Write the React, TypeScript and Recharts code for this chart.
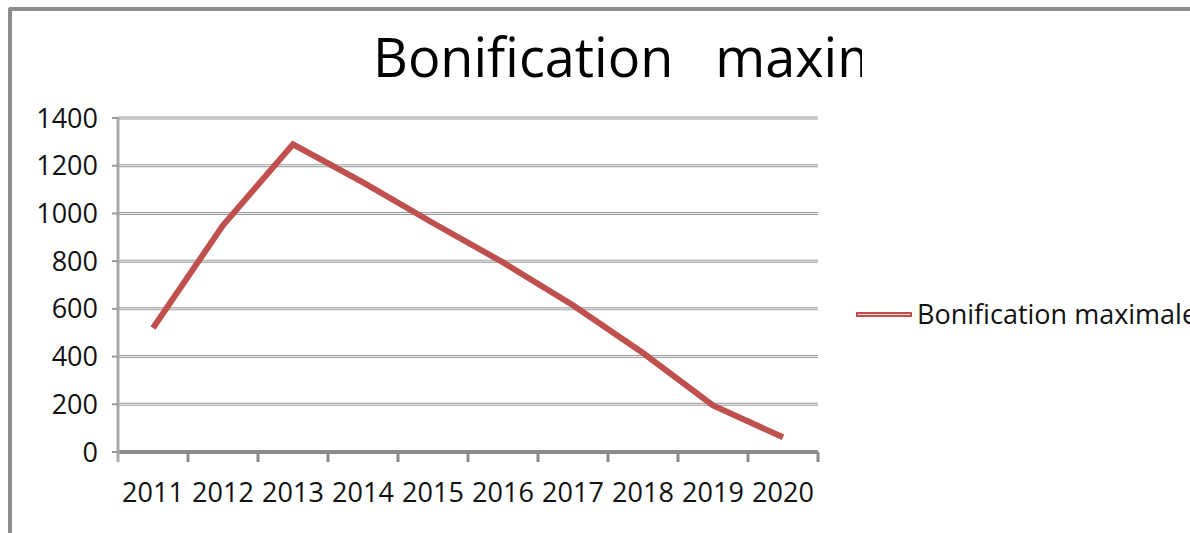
import React from "react";
import { LineChart, Line, XAxis, YAxis, CartesianGrid } from "recharts";

const years = ["2011", "2012", "2013", "2014", "2015", "2016", "2017", "2018", "2019", "2020"];
const bonification = [520, 950, 1290, 1130, 960, 795, 615, 415, 195, 62];
const yTicks = [0, 200, 400, 600, 800, 1000, 1200, 1400];
const seriesName = "Bonification maximale";

const FONT = "'Open Sans', sans-serif";
const RED = "#c0504d";

const data = years.map((year, i) => ({ year, value: bonification[i] }));

function YearTick(props: any) {
  const { x, y, payload, index } = props;
  const off = payload.offset || 0;
  return (
    <g>
      {index === 0 && (
        <line x1={x - off} x2={x - off} y1={y} y2={y + 10} stroke="#aaa" strokeWidth={3} />
      )}
      <line x1={x + off} x2={x + off} y1={y} y2={y + 10} stroke="#8c8c8c" strokeWidth={3} />
      <text x={x} y={y + 50} textAnchor="middle" fontSize={27} fontFamily={FONT} fill="#111">
        {payload.value}
      </text>
    </g>
  );
}

function LegendBox() {
  return (
    <div
      style={{
        position: "absolute",
        left: 855,
        top: 300,
        display: "flex",
        alignItems: "center",
        whiteSpace: "nowrap",
        fontFamily: FONT,
        fontSize: 27,
        lineHeight: "27px",
        color: "#111",
      }}
    >
      <svg width={58} height={10} style={{ marginRight: 4, marginTop: 2 }}>
        <rect x={1} y={2} width={56} height={5} fill={RED} />
        <line x1={3} x2={55} y1={4.5} y2={4.5} stroke="#fff" strokeWidth={0.8} />
      </svg>
      <span>{seriesName}</span>
    </div>
  );
}

export default function App() {
  return (
    <div style={{ position: "fixed", left: 0, top: 0, width: 1190, height: 533, overflow: "hidden", background: "#fff" }}>
      <div
        style={{
          position: "absolute",
          left: 8,
          top: 7,
          width: 1200,
          height: 540,
          borderTop: "4px solid #8c8c8c",
          borderLeft: "4px solid #8c8c8c",
          borderTopLeftRadius: 3,
        }}
      />
      <div
        style={{
          position: "absolute",
          left: 373,
          top: 29,
          width: 489,
          overflow: "hidden",
          whiteSpace: "pre",
          fontFamily: FONT,
          fontSize: 54,
          fontWeight: 500,
          lineHeight: "54px",
          color: "#000",
        }}
      >
        {"Bonification   maximale"}
      </div>
      <div style={{ position: "absolute", left: 0, top: 0 }}>
        <LineChart width={1190} height={533} data={data} margin={{ top: 118, right: 372, bottom: 21, left: 58 }}>
          <CartesianGrid vertical={false} stroke="#9a9a9a" strokeWidth={3} />
          <CartesianGrid vertical={false} stroke="#f4f4f4" strokeWidth={1} />
          <XAxis
            dataKey="year"
            scale="band"
            height={60}
            axisLine={{ stroke: "#8c8c8c", strokeWidth: 4 }}
            tickLine={false}
            tickSize={0}
            tickMargin={0}
            interval={0}
            tick={YearTick}
          />
          <YAxis
            domain={[0, 1400]}
            ticks={yTicks}
            width={60}
            axisLine={{ stroke: "#aaa", strokeWidth: 3 }}
            tickLine={{ stroke: "#999", strokeWidth: 2 }}
            tickSize={6}
            tickMargin={14}
            tick={{ fontSize: 27, fontFamily: FONT, fill: "#111" }}
          />
          <Line
            type="linear"
            dataKey="value"
            name={seriesName}
            stroke={RED}
            strokeWidth={6}
            strokeLinejoin="miter"
            dot={false}
            isAnimationActive={false}
          />
        </LineChart>
      </div>
      <LegendBox />
    </div>
  );
}
